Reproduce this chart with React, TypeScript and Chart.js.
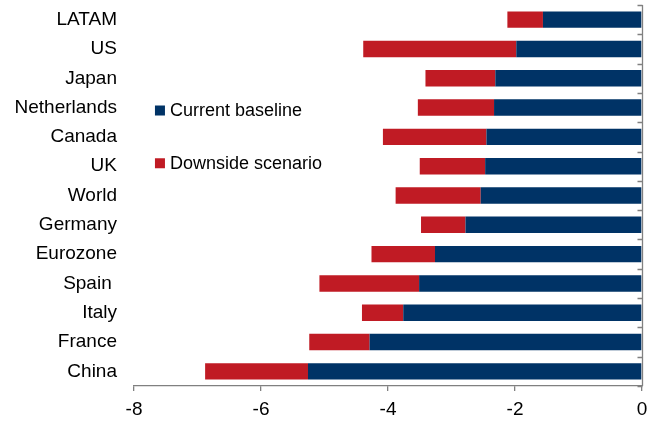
import React, { useEffect, useRef } from "react";
import { Chart, registerables } from "chart.js";

Chart.register(...registerables);

const categories = [
  "LATAM",
  "US",
  "Japan",
  "Netherlands",
  "Canada",
  "UK",
  "World",
  "Germany",
  "Eurozone",
  "Spain ",
  "Italy",
  "France",
  "China",
];

// Impact under the current baseline
const baseline = [-1.56, -1.98, -2.31, -2.33, -2.45, -2.47, -2.54, -2.78, -3.26, -3.51, -3.76, -4.29, -5.26];
// Impact under the downside scenario
const downside = [-2.12, -4.39, -3.41, -3.53, -4.08, -3.5, -3.88, -3.48, -4.26, -5.08, -4.41, -5.24, -6.88];

const xTicks = [-8, -6, -4, -2, 0];

const BLUE = "#003366";
const RED = "#C01B24";
const AXIS = "#808080";
const FONT = "'Liberation Sans', Arial, sans-serif";

// Vertical axis at zero with tick marks between categories
const zeroAxis = {
  id: "zeroAxis",
  afterDatasetsDraw(chart: any) {
    const { ctx, chartArea, scales } = chart;
    const x = Math.round(scales.x.getPixelForValue(0)) + 0.5;
    ctx.save();
    ctx.strokeStyle = AXIS;
    ctx.lineWidth = 1.3;
    ctx.beginPath();
    ctx.moveTo(x, chartArea.top);
    ctx.lineTo(x, chartArea.bottom);
    for (let i = 0; i <= categories.length; i++) {
      const y = Math.round(scales.y.getPixelForValue(i - 0.5)) + 0.5;
      ctx.moveTo(x - 5, y);
      ctx.lineTo(x, y);
    }
    ctx.stroke();
    ctx.restore();
  },
};

// Legend drawn inside the plot area
const innerLegend = {
  id: "innerLegend",
  afterDraw(chart: any) {
    const { ctx, scales } = chart;
    const left = scales.x.getPixelForValue(-7.67);
    const rows = [scales.y.getPixelForValue(3.1), scales.y.getPixelForValue(4.9)];
    ctx.save();
    ctx.font = `18px ${FONT}`;
    ctx.textBaseline = "middle";
    ctx.textAlign = "left";
    chart.data.datasets.forEach((ds: any, i: number) => {
      const y = rows[i];
      ctx.fillStyle = ds.backgroundColor;
      ctx.fillRect(left, y - 5, 10, 10);
      ctx.fillStyle = "#000";
      ctx.fillText(ds.label, left + 15, y + 1);
    });
    ctx.restore();
  },
};

export default function App() {
  const ref = useRef<HTMLCanvasElement>(null);

  useEffect(() => {
    if (!ref.current) return;
    const chart = new Chart(ref.current, {
      type: "bar",
      data: {
        labels: categories,
        datasets: [
          {
            label: "Current baseline",
            data: baseline,
            backgroundColor: BLUE,
            grouped: false,
            barPercentage: 0.56,
            categoryPercentage: 1,
          },
          {
            label: "Downside scenario",
            data: baseline.map((b, i) => [b, downside[i]]),
            backgroundColor: RED,
            grouped: false,
            barPercentage: 0.56,
            categoryPercentage: 1,
          },
        ] as any,
      },
      options: {
        indexAxis: "y",
        animation: false,
        responsive: false,
        layout: { padding: { top: 5, right: 15, bottom: 0, left: 0 } },
        plugins: {
          legend: { display: false },
          tooltip: { enabled: false },
        },
        scales: {
          x: {
            min: -8,
            max: 0,
            afterBuildTicks(scale: any) {
              scale.ticks = xTicks.map((v) => ({ value: v }));
            },
            afterFit(scale: any) {
              scale.height = 35;
            },
            border: { display: true, color: AXIS, width: 1.3 },
            grid: { drawOnChartArea: false, drawTicks: true, tickLength: 5, color: AXIS, lineWidth: 1.3 },
            ticks: { color: "#000", font: { family: FONT, size: 19 }, padding: 7, maxRotation: 0 },
          },
          y: {
            afterFit(scale: any) {
              scale.width = 134;
              scale.paddingTop = 0;
              scale.paddingBottom = 0;
            },
            border: { display: false },
            grid: { display: false, drawTicks: false },
            ticks: { color: "#000", font: { family: FONT, size: 19 }, padding: 17, autoSkip: false },
          },
        },
      },
      plugins: [zeroAxis, innerLegend],
    });
    return () => chart.destroy();
  }, []);

  return (
    <div style={{ position: "fixed", left: 0, top: 0, width: 657, height: 421, background: "#fff" }}>
      <canvas ref={ref} width={657} height={421} />
    </div>
  );
}
